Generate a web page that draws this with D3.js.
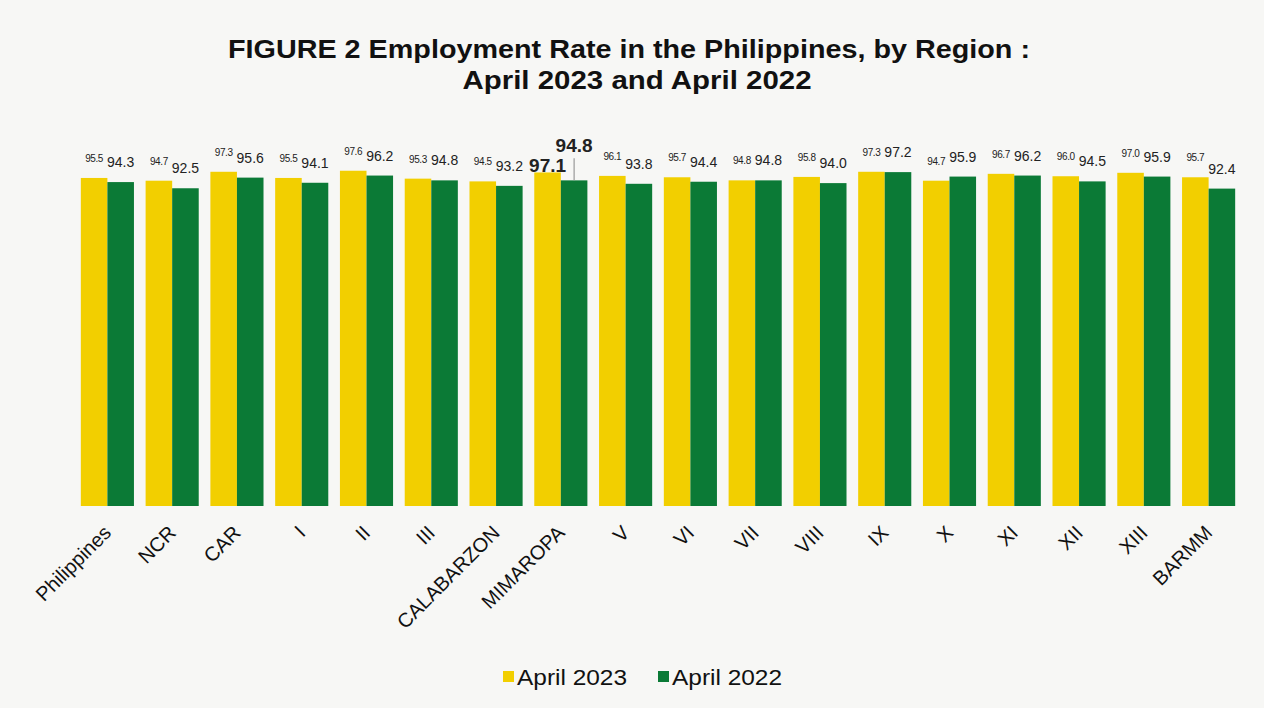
<!DOCTYPE html>
<html>
<head>
<meta charset="utf-8">
<script src="https://cdn.jsdelivr.net/npm/d3@7"></script>
<style>
  html, body { margin: 0; padding: 0; background: #f7f7f5; }
  svg { display: block; font-family: "Liberation Sans", Arial, sans-serif; }
</style>
</head>
<body>
<div id="chart"></div>
<script>
const REGIONS = ['Philippines', 'NCR', 'CAR', 'I', 'II', 'III', 'CALABARZON', 'MIMAROPA', 'V', 'VI',
  'VII', 'VIII', 'IX', 'X', 'XI', 'XII', 'XIII', 'BARMM'];
const APR_2023 = [95.5, 94.7, 97.3, 95.5, 97.6, 95.3, 94.5, 97.1, 96.1, 95.7,
  94.8, 95.8, 97.3, 94.7, 96.7, 96.0, 97.0, 95.7];
const APR_2022 = [94.3, 92.5, 95.6, 94.1, 96.2, 94.8, 93.2, 94.8, 93.8, 94.4,
  94.8, 94.0, 97.2, 95.9, 96.2, 94.5, 95.9, 92.4];
const SERIES = ['April 2023', 'April 2022'];
const COLORS = ['#f2cf00', '#0b7a36'];

const width = 1264, height = 708;
const svg = d3.select('#chart').append('svg')
  .attr('width', width)
  .attr('height', height);

// title (source font is a bit condensed, so squeeze it to the measured width)
const title = svg.append('g').attr('font-weight', 'bold').attr('fill', '#111').attr('text-anchor', 'middle');
title.append('text')
  .attr('x', 629).attr('y', 58)
  .attr('font-size', 26)
  .attr('textLength', 802).attr('lengthAdjust', 'spacingAndGlyphs')
  .text('FIGURE 2  Employment Rate in the Philippines, by Region :');
title.append('text')
  .attr('x', 637).attr('y', 89)
  .attr('font-size', 26)
  .attr('textLength', 349).attr('lengthAdjust', 'spacingAndGlyphs')
  .text('April 2023 and April 2022');

const x0 = d3.scaleBand()
  .domain(REGIONS)
  .range([75, 1241])
  .paddingInner(0.18)
  .paddingOuter(0.09);

const x1 = d3.scaleBand()
  .domain(SERIES)
  .range([0, x0.bandwidth()]);

const y = d3.scaleLinear()
  .domain([0, 100])
  .range([506, 162.5]);

const rows = REGIONS.map((r, i) => ({ region: r, values: [APR_2023[i], APR_2022[i]] }));

const groups = svg.append('g').selectAll('g')
  .data(rows)
  .join('g')
  .attr('transform', d => `translate(${x0(d.region)},0)`);

groups.selectAll('rect')
  .data(d => d.values.map((v, k) => ({ v, k })))
  .join('rect')
  .attr('x', d => x1(SERIES[d.k]))
  .attr('width', x1.bandwidth())
  .attr('y', d => y(d.v))
  .attr('height', d => y(0) - y(d.v))
  .attr('fill', d => COLORS[d.k]);

// value labels (MIMAROPA is drawn bigger in the source, with a leader line)
groups.each(function(d) {
  const g = d3.select(this);
  const big = d.region === 'MIMAROPA';
  d.values.forEach((v, k) => {
    const cx = x1(SERIES[k]) + x1.bandwidth() / 2;
    let ly = y(v) - (k === 0 ? 16 : 15);
    if (big) ly = k === 0 ? y(v) : y(v) - 28;
    g.append('text')
      .attr('x', cx)
      .attr('y', ly)
      .attr('text-anchor', 'middle')
      .attr('fill', '#222')
      .attr('font-size', big ? 19 : (k === 0 ? 10 : 14))
      .attr('font-weight', big ? 'bold' : 'normal')
      .attr('letter-spacing', k === 0 && !big ? -0.4 : 0)
      .text(v.toFixed(1));
    if (big && k === 1) {
      g.append('line')
        .attr('x1', cx).attr('x2', cx)
        .attr('y1', y(v) - 22).attr('y2', y(v))
        .attr('stroke', '#999')
        .attr('stroke-width', 1.2);
    }
  });
});

// rotated category labels
svg.append('g').selectAll('text')
  .data(REGIONS)
  .join('text')
  .attr('transform', d => `translate(${x0(d) + x0.bandwidth() / 2 + 5},${534}) rotate(-45)`)
  .attr('text-anchor', 'end')
  .attr('font-size', 20)
  .attr('fill', '#111')
  .text(d => d);

// legend
const legend = svg.append('g').attr('transform', 'translate(503,677)');
const items = [{ x: 0, tx: 14 }, { x: 155, tx: 169 }];
SERIES.forEach((s, i) => {
  legend.append('rect')
    .attr('x', items[i].x).attr('y', -6)
    .attr('width', 11).attr('height', 11)
    .attr('fill', COLORS[i]);
  legend.append('text')
    .attr('x', items[i].tx).attr('y', 8)
    .attr('font-size', 22)
    .attr('fill', '#111')
    .attr('textLength', 110).attr('lengthAdjust', 'spacingAndGlyphs')
    .text(s);
});
</script>
</body>
</html>
